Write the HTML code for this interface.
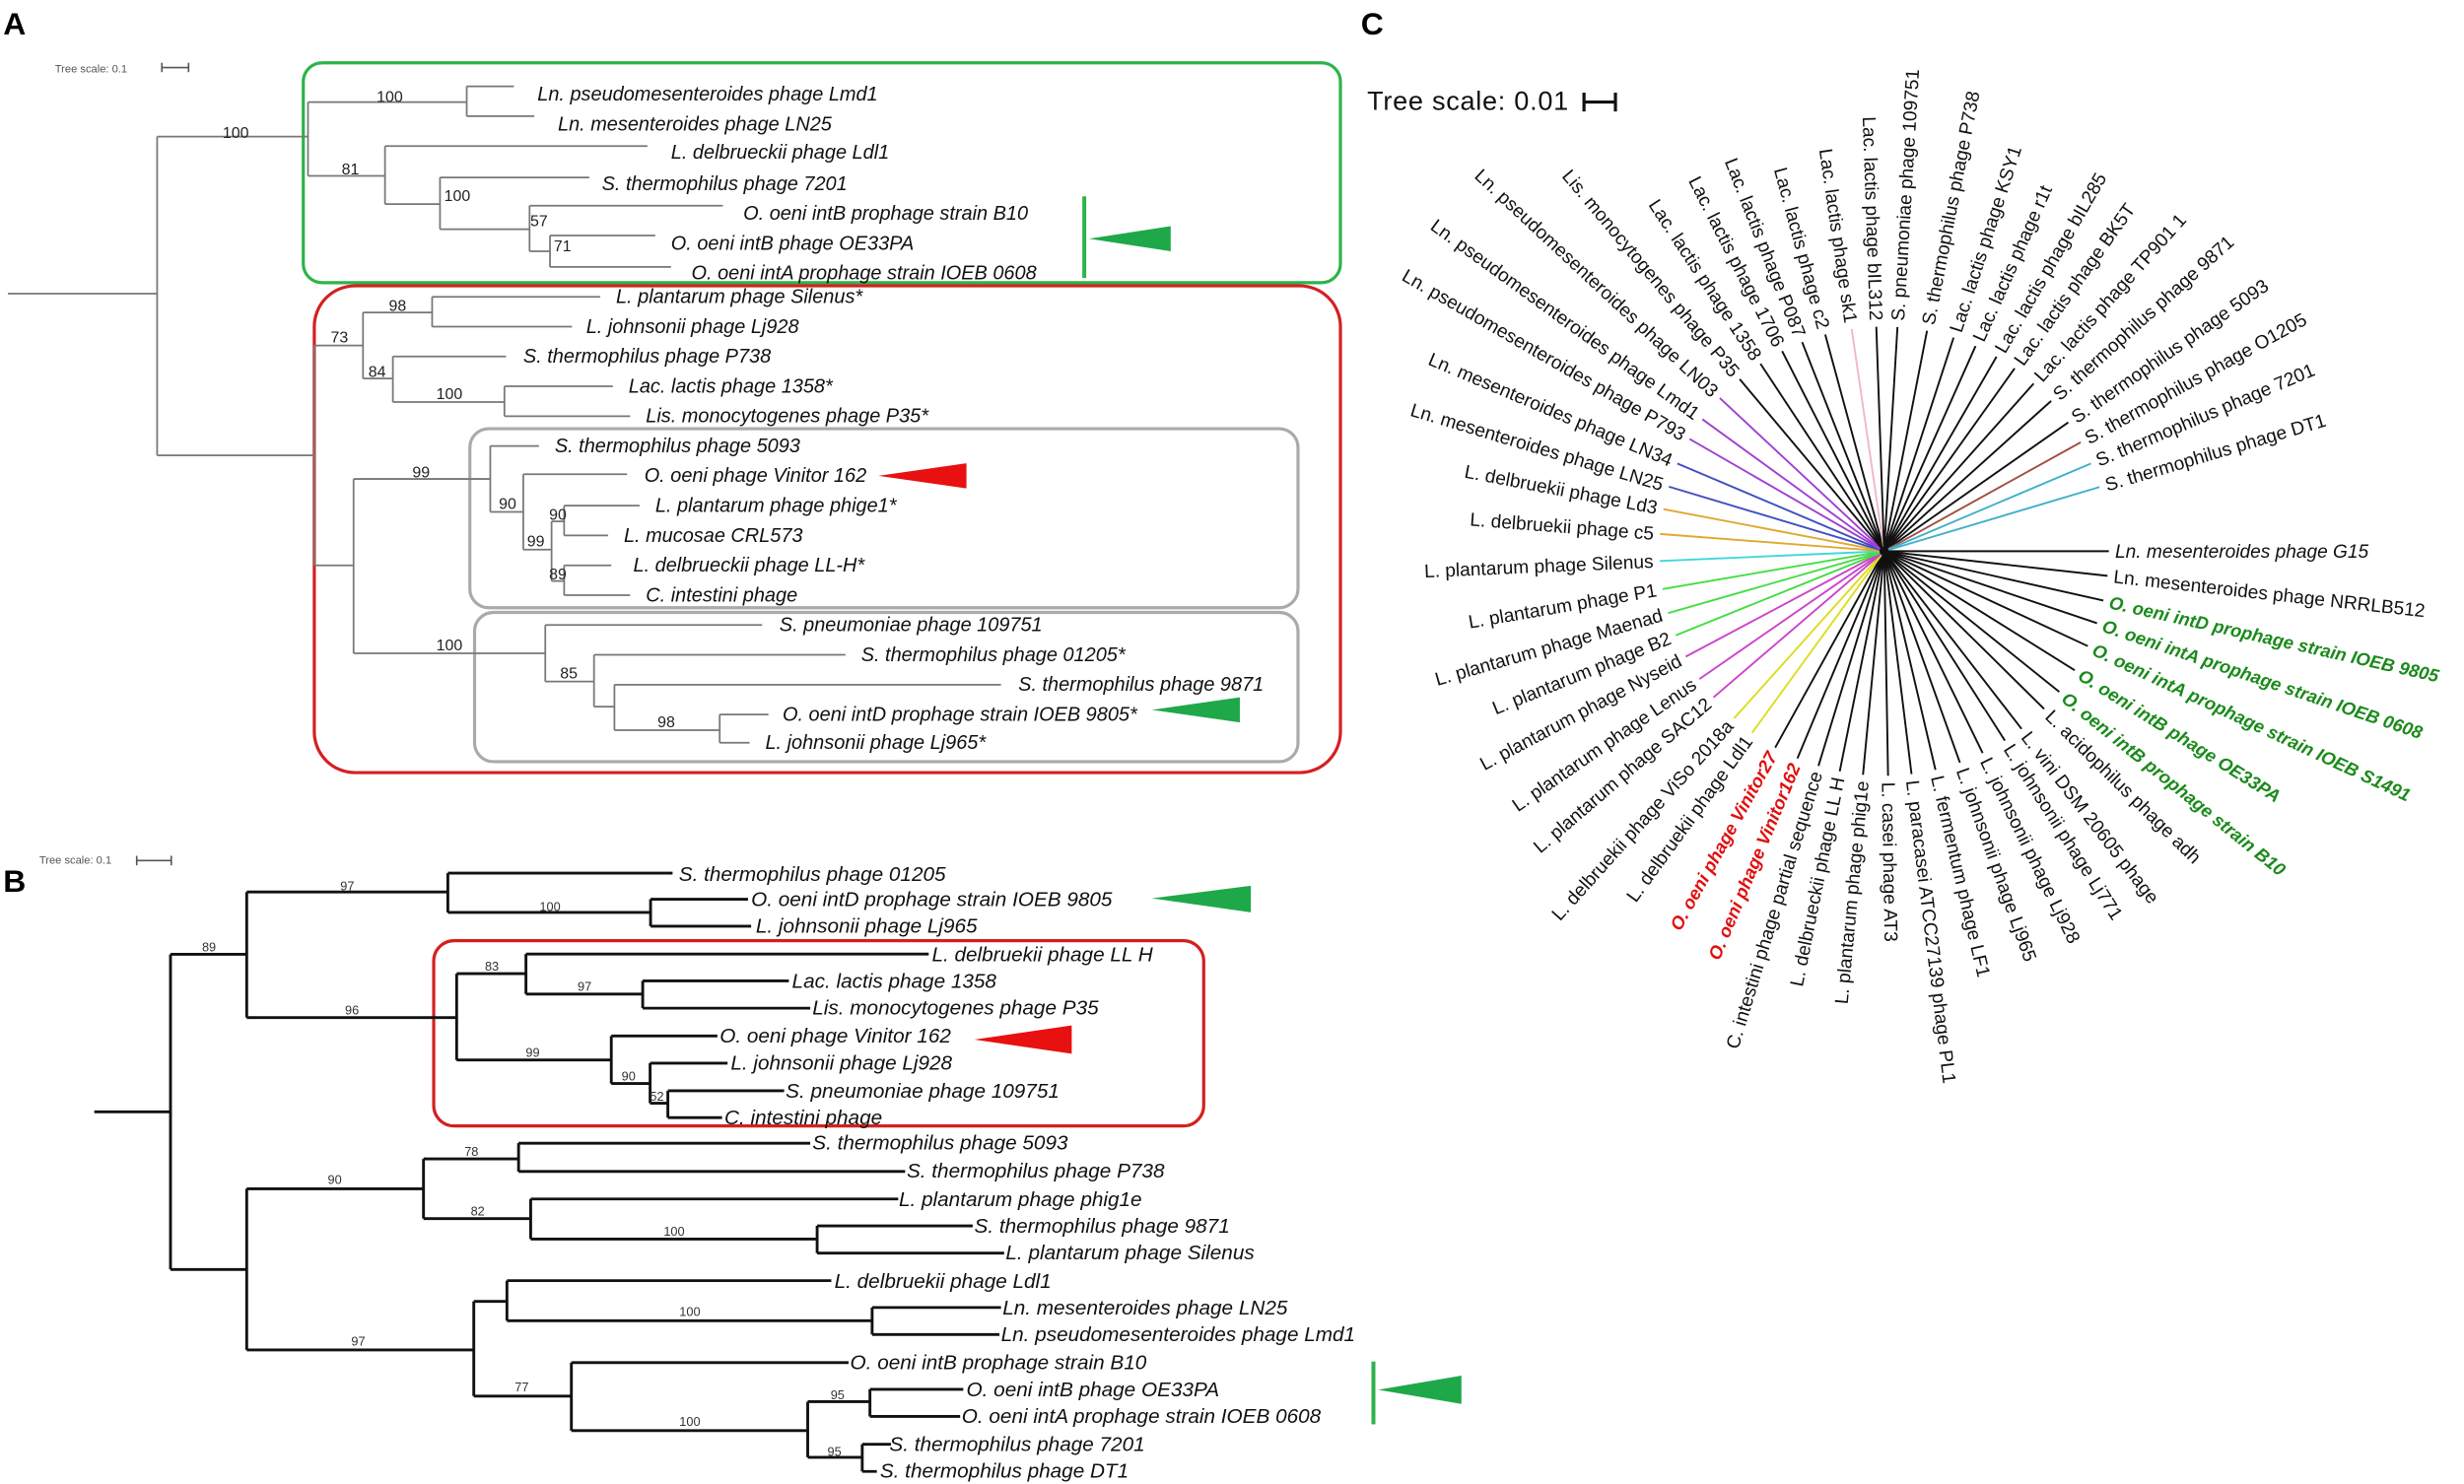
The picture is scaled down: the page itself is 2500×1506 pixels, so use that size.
<!DOCTYPE html>
<html><head><meta charset="utf-8"><style>
html,body{margin:0;padding:0;background:#fff;}
svg{display:block;}
.l{font-family:"Liberation Sans",sans-serif;font-style:italic;font-size:12.5px;fill:#111;}
.b{font-family:"Liberation Sans",sans-serif;font-size:10px;fill:#222;text-anchor:middle;}
.bb{font-family:"Liberation Sans",sans-serif;font-size:8px;fill:#333;text-anchor:middle;}
.lb{font-family:"Liberation Sans",sans-serif;font-style:italic;font-size:13px;fill:#111;}
.c{font-family:"Liberation Sans",sans-serif;font-size:12px;fill:#111;}
.cg{font-family:"Liberation Sans",sans-serif;font-size:11.5px;font-weight:bold;font-style:italic;fill:#1a8a1a;}
.cr{font-family:"Liberation Sans",sans-serif;font-size:11.5px;font-weight:bold;font-style:italic;fill:#e01010;}
.P{font-family:"Liberation Sans",sans-serif;font-size:20px;font-weight:bold;fill:#000;}
</style></head><body>
<svg width="2500" height="1506" viewBox="0 0 1568 945" preserveAspectRatio="none" xmlns="http://www.w3.org/2000/svg">
<rect width="1568" height="945" fill="#fff"/>
<!-- ================= PANEL A ================= -->
<text class="P" x="2" y="22">A</text>
<text x="35" y="46" style="font-family:'Liberation Sans',sans-serif;font-size:7px;fill:#555">Tree scale: 0.1</text>
<path d="M103 43H120M103 40V46M120 40V46" stroke="#555" stroke-width="1" fill="none"/>
<rect x="193" y="40" width="660" height="140" rx="12" fill="none" stroke="#2db34a" stroke-width="2"/>
<rect x="200" y="182" width="653" height="310" rx="26" fill="none" stroke="#d42020" stroke-width="2"/>
<rect x="299" y="273" width="527" height="114" rx="12" fill="none" stroke="#aaa" stroke-width="2"/>
<rect x="302" y="390" width="524" height="95" rx="12" fill="none" stroke="#aaa" stroke-width="2"/>
<g stroke="#777" stroke-width="1.1" fill="none">
<path d="M5 187H100M100 87V290M100 87H196M196 65V112M196 65H297M297 55V74M297 55H327M297 74H340
M196 112H245M245 93V130M245 93H412M245 130H280M280 113V146M280 113H375M280 146H337M337 131V160M337 131H460M337 160H350M350 150V170M350 150H417M350 170H427"/>
<path d="M100 290H200M200 220V360M200 220H231M231 199V241M231 199H275M275 189V208M275 189H382M275 208H364
M231 241H250M250 227V256M250 227H322M250 256H321M321 246V265M321 246H390M321 265H401
M200 360H225M225 305V416M225 305H312M312 284V326M312 284H343M312 326H333M333 302V350M333 302H399M333 350H351M351 332V370M351 332H359M359 322V341M359 322H407M359 341H387M351 370H359M359 360V379M359 360H389M359 379H401
M225 416H347M347 398V434M347 398H485M347 434H378M378 417V450M378 417H538M378 450H391M391 436V465M391 436H637M391 465H458M458 455V473M458 455H489M458 473H477"/>
</g>
<g class="b">
<text x="150" y="88">100</text><text x="248" y="65">100</text><text x="223" y="111">81</text><text x="291" y="128">100</text><text x="343" y="144">57</text><text x="358" y="160">71</text>
<text x="216" y="218">73</text><text x="253" y="198">98</text><text x="240" y="240">84</text><text x="286" y="254">100</text>
<text x="268" y="304">99</text><text x="323" y="324">90</text><text x="355" y="331">90</text><text x="341" y="348">99</text><text x="355" y="369">89</text>
<text x="286" y="414">100</text><text x="362" y="432">85</text><text x="424" y="463">98</text>
</g>
<g class="l">
<text x="342" y="64">Ln. pseudomesenteroides phage Lmd1</text>
<text x="355" y="83">Ln. mesenteroides phage LN25</text>
<text x="427" y="101">L. delbrueckii phage Ldl1</text>
<text x="383" y="121">S. thermophilus phage 7201</text>
<text x="473" y="140">O. oeni intB prophage strain B10</text>
<text x="427" y="159">O. oeni intB phage OE33PA</text>
<text x="440" y="178">O. oeni intA prophage strain IOEB 0608</text>
<text x="392" y="193">L. plantarum phage Silenus*</text>
<text x="373" y="212">L. johnsonii phage Lj928</text>
<text x="333" y="231">S. thermophilus phage P738</text>
<text x="400" y="250">Lac. lactis phage 1358*</text>
<text x="411" y="269">Lis. monocytogenes phage P35*</text>
<text x="353" y="288">S. thermophilus phage 5093</text>
<text x="410" y="307">O. oeni phage Vinitor 162</text>
<text x="417" y="326">L. plantarum phage phige1*</text>
<text x="397" y="345">L. mucosae CRL573</text>
<text x="403" y="364">L. delbrueckii phage LL-H*</text>
<text x="411" y="383">C. intestini phage</text>
<text x="496" y="402">S. pneumoniae phage 109751</text>
<text x="548" y="421">S. thermophilus phage 01205*</text>
<text x="648" y="440">S. thermophilus phage 9871</text>
<text x="498" y="459">O. oeni intD prophage strain IOEB 9805*</text>
<text x="487" y="477">L. johnsonii phage Lj965*</text>
</g>
<path d="M690 125V177" stroke="#2db34a" stroke-width="2.5"/>
<polygon points="693,152 745,144 745,160" fill="#1fa84a"/>
<polygon points="559,303 615,295 615,311" fill="#e81010"/>
<polygon points="733,452 789,444 789,460" fill="#1fa84a"/>

<!-- ================= PANEL B ================= -->
<text class="P" x="2" y="568">B</text>
<text x="25" y="550" style="font-family:'Liberation Sans',sans-serif;font-size:7px;fill:#555">Tree scale: 0.1</text>
<path d="M87 548H109M87 545V551M109 545V551" stroke="#555" stroke-width="1" fill="none"/>
<rect x="276" y="599" width="490" height="118" rx="13" fill="none" stroke="#d42020" stroke-width="2"/>
<g stroke="#111" stroke-width="1.8" fill="none">
<path d="M60 708H108.5M108.5 607.7V808.4M108.5 607.7H157M157 568V648M157 568H285M285 556V581M285 556H428M285 581H414M414 572.6V589.8M414 572.6H476M414 589.8H478
M157 648H290.6M290.6 620V675M290.6 620H334.7M334.7 607.5V633M334.7 607.5H591M334.7 633H409M409 624.6V642M409 624.6H502M409 642H515.6
M290.6 675H389M389 659.7V690M389 659.7H456.5M389 690H413.7M413.7 677V702.5M413.7 677H463M413.7 702.5H425M425 694.6V711.7M425 694.6H499M425 711.7H459.5
M108.5 808.4H157M157 757V859.6M157 757H269.5M269.5 738V776M269.5 738H330M330 728V746M330 728H515.6M330 746H576M269.5 776H337.7M337.7 763.5V789M337.7 763.5H571.6M337.7 789H520M520 780.6V798M520 780.6H619M520 798H639
M157 859.6H301.5M301.5 828.7V889M301.5 828.7H322.6M322.6 815.5V841M322.6 815.5H529M322.6 841H555M555 832.6V849.8M555 832.6H637M555 849.8H636
M301.5 889H363.6M363.6 867.7V911M363.6 867.7H540M363.6 911H514M514 892.6V928M514 892.6H553.6M553.6 884.7V902M553.6 884.7H613M553.6 902H611M514 928H548.7M548.7 919.7V937M548.7 919.7H567M548.7 937H558"/>
</g>
<g class="bb">
<text x="133" y="606">89</text><text x="221" y="567">97</text><text x="350" y="580">100</text><text x="224" y="646">96</text><text x="313" y="618">83</text><text x="372" y="631">97</text><text x="339" y="673">99</text><text x="400" y="688">90</text><text x="418" y="701">52</text>
<text x="213" y="754">90</text><text x="300" y="736">78</text><text x="304" y="774">82</text><text x="429" y="787">100</text><text x="228" y="857">97</text><text x="439" y="838">100</text><text x="332" y="886">77</text><text x="439" y="908">100</text><text x="533" y="891">95</text><text x="531" y="927">95</text>
</g>
<g class="lb">
<text x="432" y="561">S. thermophilus phage 01205</text>
<text x="478" y="577">O. oeni intD prophage strain IOEB 9805</text>
<text x="481" y="594">L. johnsonii phage Lj965</text>
<text x="593" y="612">L. delbruekii phage LL H</text>
<text x="504" y="629">Lac. lactis phage 1358</text>
<text x="517" y="646">Lis. monocytogenes phage P35</text>
<text x="458" y="664">O. oeni phage Vinitor 162</text>
<text x="465" y="681">L. johnsonii phage Lj928</text>
<text x="500" y="699">S. pneumoniae phage 109751</text>
<text x="461" y="716">C. intestini phage</text>
<text x="517" y="732">S. thermophilus phage 5093</text>
<text x="577" y="750">S. thermophilus phage P738</text>
<text x="572" y="768">L. plantarum phage phig1e</text>
<text x="620" y="785">S. thermophilus phage 9871</text>
<text x="640" y="802">L. plantarum phage Silenus</text>
<text x="531" y="820">L. delbruekii phage Ldl1</text>
<text x="638" y="837">Ln. mesenteroides phage LN25</text>
<text x="637" y="854">Ln. pseudomesenteroides phage Lmd1</text>
<text x="541" y="872">O. oeni intB prophage strain B10</text>
<text x="615" y="889">O. oeni intB phage OE33PA</text>
<text x="612" y="906">O. oeni intA prophage strain IOEB 0608</text>
<text x="566" y="924">S. thermophilus phage 7201</text>
<text x="560" y="941">S. thermophilus phage DT1</text>
</g>
<polygon points="733,572 796,564 796,581" fill="#1fa84a"/>
<polygon points="620,662 682,653 682,671" fill="#e81010"/>
<path d="M874 867V907" stroke="#2db34a" stroke-width="2.5"/>
<polygon points="877,885 930,876 930,894" fill="#1fa84a"/>

<!-- ================= PANEL C ================= -->
<text class="P" x="866" y="22">C</text>
<text x="870" y="70" style="font-family:'Liberation Sans',sans-serif;font-size:17px;fill:#111" textLength="128">Tree scale: 0.01</text>
<path d="M1008 65H1028M1008 59V71M1028 59V71" stroke="#111" stroke-width="2" fill="none"/>
<g transform="translate(1199,351)">
<circle r="4" fill="#111"/>
<g stroke-width="1.2" fill="none" stroke="#111">
<line x1="3" x2="143" transform="rotate(0)"/>
<line x1="3" x2="143" transform="rotate(6.3)"/>
<line x1="3" x2="143" transform="rotate(12.7)"/>
<line x1="3" x2="143" transform="rotate(18.7)"/>
<line x1="3" x2="143" transform="rotate(25)"/>
<line x1="3" x2="143" transform="rotate(32)"/>
<line x1="3" x2="143" transform="rotate(38.8)"/>
<line x1="3" x2="143" transform="rotate(44.6)"/>
<line x1="3" x2="143" transform="rotate(52.3)"/>
<line x1="3" x2="143" transform="rotate(57.5)"/>
<line x1="3" x2="143" transform="rotate(64)"/>
<line x1="3" x2="143" transform="rotate(70.3)"/>
<line x1="3" x2="143" transform="rotate(76.8)"/>
<line x1="3" x2="143" transform="rotate(83)"/>
<line x1="3" x2="143" transform="rotate(89)"/>
<line x1="3" x2="143" transform="rotate(95.4)"/>
<line x1="3" x2="143" transform="rotate(101.4)"/>
<line x1="3" x2="143" transform="rotate(107)"/>
<line x1="3" x2="143" transform="rotate(112.7)"/>
<line x1="3" x2="143" transform="rotate(119)"/>
<line x1="3" x2="143" stroke="#dddd20" transform="rotate(126)"/>
<line x1="3" x2="143" stroke="#dddd20" transform="rotate(131.9)"/>
<line x1="3" x2="143" stroke="#cc44cc" transform="rotate(139.4)"/>
<line x1="3" x2="143" stroke="#cc44cc" transform="rotate(145.3)"/>
<line x1="3" x2="143" stroke="#cc44cc" transform="rotate(152)"/>
<line x1="3" x2="143" stroke="#44dd44" transform="rotate(158)"/>
<line x1="3" x2="143" stroke="#44dd44" transform="rotate(164)"/>
<line x1="3" x2="143" stroke="#44dd44" transform="rotate(170.3)"/>
<line x1="3" x2="143" stroke="#40d8d8" transform="rotate(177.5)"/>
<line x1="3" x2="143" stroke="#e0a830" transform="rotate(184.4)"/>
<line x1="3" x2="143" stroke="#e0a830" transform="rotate(190.8)"/>
<line x1="3" x2="143" stroke="#4050c0" transform="rotate(196.7)"/>
<line x1="3" x2="143" stroke="#4050c0" transform="rotate(203)"/>
<line x1="3" x2="143" stroke="#a040d0" transform="rotate(210)"/>
<line x1="3" x2="143" stroke="#a040d0" transform="rotate(216)"/>
<line x1="3" x2="143" stroke="#a040d0" transform="rotate(223)"/>
<line x1="3" x2="143" transform="rotate(230)"/>
<line x1="3" x2="143" transform="rotate(236.6)"/>
<line x1="3" x2="143" transform="rotate(243)"/>
<line x1="3" x2="143" transform="rotate(248.6)"/>
<line x1="3" x2="143" transform="rotate(254.8)"/>
<line x1="3" x2="143" stroke="#f0b8c8" transform="rotate(261.7)"/>
<line x1="3" x2="143" transform="rotate(268)"/>
<line x1="3" x2="143" transform="rotate(273.4)"/>
<line x1="3" x2="143" transform="rotate(281)"/>
<line x1="3" x2="143" transform="rotate(288)"/>
<line x1="3" x2="143" transform="rotate(294)"/>
<line x1="3" x2="143" transform="rotate(300)"/>
<line x1="3" x2="143" transform="rotate(305.5)"/>
<line x1="3" x2="143" transform="rotate(311.7)"/>
<line x1="3" x2="143" transform="rotate(318)"/>
<line x1="3" x2="143" transform="rotate(325)"/>
<line x1="3" x2="143" stroke="#a05040" transform="rotate(331)"/>
<line x1="3" x2="143" stroke="#40b0c8" transform="rotate(337)"/>
<line x1="3" x2="143" stroke="#40b0c8" transform="rotate(343.4)"/>
</g>
<!-- right side labels -->
<g class="c">
<text x="147" dy="4" transform="rotate(0)" style="font-style:italic">Ln. mesenteroides phage G15</text>
<text x="147" dy="4" transform="rotate(6.3)">Ln. mesenteroides phage NRRLB512</text>
<text x="147" dy="4" transform="rotate(44.6)">L. acidophilus phage adh</text>
<text x="147" dy="4" transform="rotate(52.3)">L. vini DSM 20605 phage</text>
<text x="147" dy="4" transform="rotate(57.5)">L. johnsonii phage Lj771</text>
<text x="147" dy="4" transform="rotate(64)">L. johnsonii phage Lj928</text>
<text x="147" dy="4" transform="rotate(70.3)">L. johnsonii phage Lj965</text>
<text x="147" dy="4" transform="rotate(76.8)">L. fermentum phage LF1</text>
<text x="147" dy="4" transform="rotate(83)">L. paracasei ATCC27139 phage PL1</text>
<text x="147" dy="4" transform="rotate(89)">L. casei phage AT3</text>
<text x="147" dy="4" transform="rotate(273.4)">S. pneumoniae phage 109751</text>
<text x="147" dy="4" transform="rotate(281)">S. thermophilus phage P738</text>
<text x="147" dy="4" transform="rotate(288)">Lac. lactis phage KSY1</text>
<text x="147" dy="4" transform="rotate(294)">Lac. lactis phage r1t</text>
<text x="147" dy="4" transform="rotate(300)">Lac. lactis phage bIL285</text>
<text x="147" dy="4" transform="rotate(305.5)">Lac. lactis phage BK5T</text>
<text x="147" dy="4" transform="rotate(311.7)">Lac. lactis phage TP901 1</text>
<text x="147" dy="4" transform="rotate(318)">S. thermophilus phage 9871</text>
<text x="147" dy="4" transform="rotate(325)">S. thermophilus phage 5093</text>
<text x="147" dy="4" transform="rotate(331)">S. thermophilus phage O1205</text>
<text x="147" dy="4" transform="rotate(337)">S. thermophilus phage 7201</text>
<text x="147" dy="4" transform="rotate(343.4)">S. thermophilus phage DT1</text>
</g>
<g class="cg">
<text x="147" dy="4" transform="rotate(12.7)">O. oeni intD prophage strain IOEB 9805</text>
<text x="147" dy="4" transform="rotate(18.7)">O. oeni intA prophage strain IOEB 0608</text>
<text x="147" dy="4" transform="rotate(25)">O. oeni intA prophage strain IOEB S1491</text>
<text x="147" dy="4" transform="rotate(32)">O. oeni intB phage OE33PA</text>
<text x="147" dy="4" transform="rotate(38.8)">O. oeni intB prophage strain B10</text>
</g>
<!-- left side labels -->
<g class="c" text-anchor="end">
<text x="-147" dy="4" transform="rotate(-84.6)">L. plantarum phage phig1e</text>
<text x="-147" dy="4" transform="rotate(-78.6)">L. delbrueckii phage LL H</text>
<text x="-147" dy="4" transform="rotate(-73)">C. intestini phage partial sequence</text>
<text x="-147" dy="4" transform="rotate(-54)">L. delbruekii phage Ldl1</text>
<text x="-147" dy="4" transform="rotate(-48.1)">L. delbruekii phage ViSo 2018a</text>
<text x="-147" dy="4" transform="rotate(-40.6)">L. plantarum phage SAC12</text>
<text x="-147" dy="4" transform="rotate(-34.7)">L. plantarum phage Lenus</text>
<text x="-147" dy="4" transform="rotate(-28)">L. plantarum phage Nyseid</text>
<text x="-147" dy="4" transform="rotate(-22)">L. plantarum phage B2</text>
<text x="-147" dy="4" transform="rotate(-16)">L. plantarum phage Maenad</text>
<text x="-147" dy="4" transform="rotate(-9.7)">L. plantarum phage P1</text>
<text x="-147" dy="4" transform="rotate(-2.5)">L. plantarum phage Silenus</text>
<text x="-147" dy="4" transform="rotate(4.4)">L. delbruekii phage c5</text>
<text x="-147" dy="4" transform="rotate(10.8)">L. delbruekii phage Ld3</text>
<text x="-147" dy="4" transform="rotate(16.7)">Ln. mesenteroides phage LN25</text>
<text x="-147" dy="4" transform="rotate(23)">Ln. mesenteroides phage LN34</text>
<text x="-147" dy="4" transform="rotate(30)">Ln. pseudomesenteroides phage P793</text>
<text x="-147" dy="4" transform="rotate(36)">Ln. pseudomesenteroides phage Lmd1</text>
<text x="-147" dy="4" transform="rotate(43)">Ln. pseudomesenteroides phage LN03</text>
<text x="-147" dy="4" transform="rotate(50)">Lis. monocytogenes phage P35</text>
<text x="-147" dy="4" transform="rotate(56.6)">Lac. lactis phage 1358</text>
<text x="-147" dy="4" transform="rotate(63)">Lac. lactis phage 1706</text>
<text x="-147" dy="4" transform="rotate(68.6)">Lac. lactis phage P087</text>
<text x="-147" dy="4" transform="rotate(74.8)">Lac. lactis phage c2</text>
<text x="-147" dy="4" transform="rotate(81.7)">Lac. lactis phage sk1</text>
<text x="-147" dy="4" transform="rotate(88)">Lac. lactis phage bIL312</text>
</g>
<g class="cr" text-anchor="end">
<text x="-147" dy="4" transform="rotate(-67.3)">O. oeni phage Vinitor162</text>
<text x="-147" dy="4" transform="rotate(-61)">O. oeni phage Vinitor27</text>
</g>
</g>
</svg>
</body></html>
